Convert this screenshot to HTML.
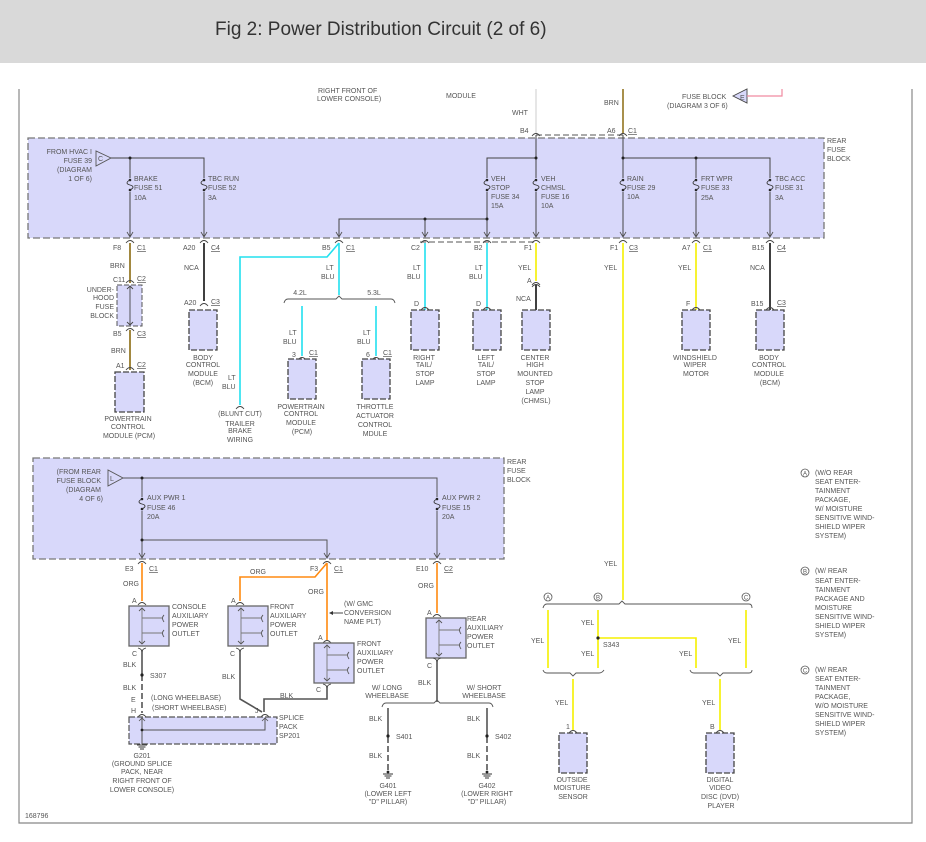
<!DOCTYPE html>
<html><head><meta charset="utf-8"><style>
html,body{margin:0;padding:0;background:#fff;width:926px;height:842px;overflow:hidden}
svg{display:block}
text{font-family:"Liberation Sans",sans-serif;font-size:7px;fill:#555}
.ttl{font-size:19px;fill:#333}
.c{text-anchor:middle}
.u{text-decoration:underline}
</style></head><body>
<svg width="926" height="842" viewBox="0 0 926 842" xmlns="http://www.w3.org/2000/svg">
<defs>
<g id="fz"><rect x="-4" y="-1" width="8" height="14" fill="#d8d8fa"/><circle cx="0" cy="1" r="1.3" fill="#222"/><circle cx="0" cy="11" r="1.3" fill="#222"/><path d="M0,1 c-4,2 -4,4 0,5 c4,1 4,3 0,5" fill="none" stroke="#333" stroke-width="0.9"/></g>
<path id="ar" d="M-3,-5 L0,0 L3,-5" fill="none" stroke="#555" stroke-width="0.9"/>
<path id="cp" d="M-4,3 Q0,-2 4,3" fill="none" stroke="#444" stroke-width="0.9"/>
<g id="gnd"><line x1="-5" y1="0" x2="5" y2="0" stroke="#333"/><line x1="-3.5" y1="2" x2="3.5" y2="2" stroke="#333"/><line x1="-2" y1="4" x2="2" y2="4" stroke="#333"/></g>
<g id="out"><rect x="0" y="0" width="40" height="40" fill="#d8d8fa" stroke="#666" stroke-width="1.3"/><path d="M13,2 V27 M13,12 H33 M13,27 V38 M13,27 H33" fill="none" stroke="#777" stroke-width="0.9"/><path d="M10,5 L13,2 L16,5 M10,35 L13,38 L16,35" fill="none" stroke="#555" stroke-width="0.9"/><path d="M35,9 q-3,3 0,7 M35,24 q-3,3 0,7" fill="none" stroke="#555" stroke-width="0.9"/></g>
</defs>

<rect x="0" y="0" width="926" height="63" fill="#d9d9d9"/>
<text x="215" y="35" class="ttl">Fig 2: Power Distribution Circuit (2 of 6)</text>

<!-- frame -->
<path d="M19,89 V823 H912 V89" fill="none" stroke="#888" stroke-width="1.2"/>

<!-- top stuff -->
<text x="318" y="93">RIGHT FRONT OF</text>
<text x="317" y="101">LOWER CONSOLE)</text>
<text x="446" y="98">MODULE</text>
<line x1="536" y1="89" x2="536" y2="134" stroke="#ddd" stroke-width="1.5"/>
<text x="512" y="115">WHT</text>
<line x1="623" y1="89" x2="623" y2="134" stroke="#8a6a10" stroke-width="1.5"/>
<text x="604" y="105">BRN</text>
<text x="682" y="99">FUSE BLOCK</text>
<text x="667" y="108">(DIAGRAM 3 OF 6)</text>
<polygon points="733,96 747,89 747,103" fill="#d8d8fa" stroke="#444" stroke-width="0.9"/>
<text x="740" y="100">E</text>
<path d="M747,96 H782 V89" fill="none" stroke="#f08aa0" stroke-width="1.2"/>

<!-- upper fuse block -->
<rect x="28" y="138" width="796" height="100" fill="#d8d8fa" stroke="#777" stroke-width="1.3" stroke-dasharray="7,3"/>
<path d="M420,242 H536 M536,135 H623" stroke="#777" stroke-width="1.2" stroke-dasharray="6,3" fill="none"/>
<text x="827" y="143">REAR</text><text x="827" y="152">FUSE</text><text x="827" y="161">BLOCK</text>
<text x="92" y="154" text-anchor="end">FROM HVAC I</text>
<text x="92" y="163" text-anchor="end">FUSE 39</text>
<text x="92" y="172" text-anchor="end">(DIAGRAM</text>
<text x="92" y="181" text-anchor="end">1 OF 6)</text>
<polygon points="96,151 96,166 111,158" fill="#d8d8fa" stroke="#555" stroke-width="0.9"/>
<text x="98" y="161">C</text>
<g stroke="#444" stroke-width="1" fill="none">
<path d="M111,158 H204 V237 M130,158 V237"/>
<path d="M339,237 V219 H487 M425,219 V237 M487,237 V158 H536 M536,135 V237"/>
<path d="M623,135 V237 M623,158 H770 V237 M696,158 V237"/>
</g>
<circle cx="130" cy="158" r="1.5" fill="#222"/><circle cx="425" cy="219" r="1.5" fill="#222"/><circle cx="487" cy="219" r="1.5" fill="#222"/><circle cx="536" cy="158" r="1.5" fill="#222"/><circle cx="623" cy="158" r="1.5" fill="#222"/><circle cx="696" cy="158" r="1.5" fill="#222"/>
<use href="#fz" x="130" y="179"/><use href="#fz" x="204" y="179"/><use href="#fz" x="487" y="179"/><use href="#fz" x="536" y="179"/><use href="#fz" x="623" y="179"/><use href="#fz" x="696" y="179"/><use href="#fz" x="770" y="179"/>
<text x="134" y="181">BRAKE</text><text x="134" y="190">FUSE 51</text><text x="134" y="200">10A</text>
<text x="208" y="181">TBC RUN</text><text x="208" y="190">FUSE 52</text><text x="208" y="200">3A</text>
<text x="491" y="181">VEH</text><text x="491" y="190">STOP</text><text x="491" y="199">FUSE 34</text><text x="491" y="208">15A</text>
<text x="541" y="181">VEH</text><text x="541" y="190">CHMSL</text><text x="541" y="199">FUSE 16</text><text x="541" y="208">10A</text>
<text x="627" y="181">RAIN</text><text x="627" y="190">FUSE 29</text><text x="627" y="199">10A</text>
<text x="701" y="181">FRT WPR</text><text x="701" y="190">FUSE 33</text><text x="701" y="200">25A</text>
<text x="775" y="181">TBC ACC</text><text x="775" y="190">FUSE 31</text><text x="775" y="200">3A</text>
<use href="#ar" x="130" y="237"/><use href="#ar" x="204" y="237"/><use href="#ar" x="339" y="237"/><use href="#ar" x="425" y="237"/><use href="#ar" x="487" y="237"/><use href="#ar" x="536" y="237"/><use href="#ar" x="623" y="237"/><use href="#ar" x="696" y="237"/><use href="#ar" x="770" y="237"/>
<use href="#cp" x="536" y="133"/><use href="#cp" x="623" y="133"/>
<text x="520" y="133">B4</text><text x="607" y="133">A6</text><text x="628" y="133" class="u">C1</text>
<g transform="translate(0,0)">
<use href="#cp" x="130" y="240"/><use href="#cp" x="204" y="240"/><use href="#cp" x="339" y="240"/><use href="#cp" x="425" y="240"/><use href="#cp" x="487" y="240"/><use href="#cp" x="536" y="240"/><use href="#cp" x="623" y="240"/><use href="#cp" x="696" y="240"/><use href="#cp" x="770" y="240"/>
</g>
<text x="113" y="250">F8</text><text x="137" y="250" class="u">C1</text>
<text x="183" y="250">A20</text><text x="211" y="250" class="u">C4</text>
<text x="322" y="250">B5</text><text x="346" y="250" class="u">C1</text>
<text x="411" y="250">C2</text>
<text x="474" y="250">B2</text>
<text x="524" y="250">F1</text>
<text x="610" y="250">F1</text><text x="629" y="250" class="u">C3</text>
<text x="682" y="250">A7</text><text x="703" y="250" class="u">C1</text>
<text x="752" y="250">B15</text><text x="777" y="250" class="u">C4</text>

<!-- column 130 -->
<g stroke-width="1.6" fill="none">
<path d="M130,243 V283 M130,330 V370" stroke="#8a6a10"/>
<path d="M204,243 V301 M770,243 V311 M536,285 V310" stroke="#111"/>
<path d="M339,243 L327,257 H240 V405 M339,243 V295 M302,306 V356 M376,306 V356 M425,243 V310 M487,243 V310" stroke="#22e0ee"/>
<path d="M536,243 V281 M623,243 V600 M696,243 V310" stroke="#f5f000"/>
</g>
<text x="110" y="268">BRN</text>
<use href="#cp" x="130" y="280"/><text x="113" y="282">C11</text><text x="137" y="281" class="u">C2</text>
<rect x="117" y="285" width="25" height="41" fill="#d8d8fa" stroke="#555" stroke-dasharray="5,2"/>
<path d="M130,286 V325 M127,289 L130,286 L133,289 M127,322 L130,325 L133,322" stroke="#444" fill="none" stroke-width="0.9"/>
<text x="114" y="292" text-anchor="end">UNDER-</text><text x="114" y="300" text-anchor="end">HOOD</text><text x="114" y="309" text-anchor="end">FUSE</text><text x="114" y="318" text-anchor="end">BLOCK</text>
<use href="#cp" x="130" y="328"/><text x="113" y="336">B5</text><text x="137" y="336" class="u">C3</text>
<text x="111" y="353">BRN</text>
<use href="#cp" x="130" y="367"/><text x="116" y="368">A1</text><text x="137" y="367" class="u">C2</text>
<rect x="115" y="372" width="29" height="40" fill="#d8d8fa" stroke="#444" stroke-width="1.3" stroke-dasharray="6,2"/>
<text x="128" y="421" class="c">POWERTRAIN</text><text x="128" y="429" class="c">CONTROL</text><text x="129" y="438" class="c">MODULE (PCM)</text>

<text x="184" y="270">NCA</text>
<use href="#cp" x="204" y="303"/><text x="184" y="305">A20</text><text x="211" y="304" class="u">C3</text>
<rect x="189" y="310" width="28" height="40" fill="#d8d8fa" stroke="#444" stroke-width="1.3" stroke-dasharray="6,2"/>
<text x="203" y="360" class="c">BODY</text><text x="203" y="367" class="c">CONTROL</text><text x="203" y="376" class="c">MODULE</text><text x="203" y="385" class="c">(BCM)</text>

<text x="228" y="380">LT</text><text x="222" y="389">BLU</text>
<use href="#cp" x="240" y="406"/>
<text x="240" y="416" class="c">(BLUNT CUT)</text><text x="240" y="426" class="c">TRAILER</text><text x="240" y="433" class="c">BRAKE</text><text x="240" y="442" class="c">WIRING</text>

<text x="326" y="270">LT</text><text x="321" y="279">BLU</text>
<path d="M284,303 Q285,299 288,299 H336 L339,296 L342,299 H391 Q394,299 395,303" fill="none" stroke="#555" stroke-width="0.9"/>
<text x="300" y="295" class="c">4.2L</text><text x="374" y="295" class="c">5.3L</text>
<text x="289" y="335">LT</text><text x="283" y="344">BLU</text>
<text x="363" y="335">LT</text><text x="357" y="344">BLU</text>
<use href="#cp" x="302" y="357"/><text x="292" y="357">3</text><text x="309" y="355" class="u">C1</text>
<use href="#cp" x="376" y="357"/><text x="366" y="357">6</text><text x="383" y="355" class="u">C1</text>
<rect x="288" y="359" width="28" height="40" fill="#d8d8fa" stroke="#444" stroke-width="1.3" stroke-dasharray="6,2"/>
<rect x="362" y="359" width="28" height="40" fill="#d8d8fa" stroke="#444" stroke-width="1.3" stroke-dasharray="6,2"/>
<text x="301" y="409" class="c">POWERTRAIN</text><text x="301" y="416" class="c">CONTROL</text><text x="301" y="425" class="c">MODULE</text><text x="302" y="434" class="c">(PCM)</text>
<text x="375" y="409" class="c">THROTTLE</text><text x="375" y="418" class="c">ACTUATOR</text><text x="375" y="427" class="c">CONTROL</text><text x="375" y="436" class="c">MDULE</text>

<text x="413" y="270">LT</text><text x="407" y="279">BLU</text>
<use href="#cp" x="425" y="307"/><text x="414" y="306">D</text>
<rect x="411" y="310" width="28" height="40" fill="#d8d8fa" stroke="#444" stroke-width="1.3" stroke-dasharray="6,2"/>
<text x="424" y="360" class="c">RIGHT</text><text x="424" y="367" class="c">TAIL/</text><text x="425" y="376" class="c">STOP</text><text x="425" y="385" class="c">LAMP</text>

<text x="475" y="270">LT</text><text x="469" y="279">BLU</text>
<use href="#cp" x="487" y="307"/><text x="476" y="306">D</text>
<rect x="473" y="310" width="28" height="40" fill="#d8d8fa" stroke="#444" stroke-width="1.3" stroke-dasharray="6,2"/>
<text x="486" y="360" class="c">LEFT</text><text x="486" y="367" class="c">TAIL/</text><text x="486" y="376" class="c">STOP</text><text x="486" y="385" class="c">LAMP</text>

<text x="518" y="270">YEL</text>
<use href="#cp" x="536" y="282"/><path d="M532,287 Q536,282 540,287" fill="none" stroke="#444" stroke-width="0.9"/><text x="527" y="283">A</text>
<text x="516" y="301">NCA</text>
<rect x="522" y="310" width="28" height="40" fill="#d8d8fa" stroke="#444" stroke-width="1.3" stroke-dasharray="6,2"/>
<text x="535" y="360" class="c">CENTER</text><text x="535" y="367" class="c">HIGH</text><text x="535" y="376" class="c">MOUNTED</text><text x="535" y="385" class="c">STOP</text><text x="535" y="394" class="c">LAMP</text><text x="536" y="403" class="c">(CHMSL)</text>

<text x="604" y="270">YEL</text>
<text x="678" y="270">YEL</text>
<use href="#cp" x="696" y="307"/><text x="686" y="306">F</text>
<rect x="682" y="310" width="28" height="40" fill="#d8d8fa" stroke="#444" stroke-width="1.3" stroke-dasharray="6,2"/>
<text x="695" y="360" class="c">WINDSHIELD</text><text x="695" y="367" class="c">WIPER</text><text x="696" y="376" class="c">MOTOR</text>

<text x="750" y="270">NCA</text>
<use href="#cp" x="770" y="307"/><text x="751" y="306">B15</text><text x="777" y="305" class="u">C3</text>
<rect x="756" y="310" width="28" height="40" fill="#d8d8fa" stroke="#444" stroke-width="1.3" stroke-dasharray="6,2"/>
<text x="769" y="360" class="c">BODY</text><text x="769" y="367" class="c">CONTROL</text><text x="769" y="376" class="c">MODULE</text><text x="770" y="385" class="c">(BCM)</text>

<!-- lower fuse block -->
<rect x="33" y="458" width="471" height="101" fill="#d8d8fa" stroke="#777" stroke-width="1.3" stroke-dasharray="7,3"/>
<text x="507" y="464">REAR</text><text x="507" y="473">FUSE</text><text x="507" y="482">BLOCK</text>
<text x="101" y="474" text-anchor="end">(FROM REAR</text><text x="101" y="483" text-anchor="end">FUSE BLOCK</text><text x="101" y="492" text-anchor="end">(DIAGRAM</text><text x="103" y="501" text-anchor="end">4 OF 6)</text>
<polygon points="108,470 108,486 123,478" fill="#d8d8fa" stroke="#555" stroke-width="0.9"/>
<text x="110" y="481">L</text>
<path d="M123,478 H437 V558 M142,478 V558 M142,540 H327 V558" fill="none" stroke="#555" stroke-width="1"/>
<circle cx="142" cy="478" r="1.5" fill="#222"/><circle cx="142" cy="540" r="1.5" fill="#222"/>
<use href="#fz" x="142" y="498"/><use href="#fz" x="437" y="498"/>
<text x="147" y="500">AUX PWR 1</text><text x="147" y="510">FUSE 46</text><text x="147" y="519">20A</text>
<text x="442" y="500">AUX PWR 2</text><text x="442" y="510">FUSE 15</text><text x="442" y="519">20A</text>
<use href="#ar" x="142" y="558"/><use href="#ar" x="327" y="558"/><use href="#ar" x="437" y="558"/>
<use href="#cp" x="142" y="561"/><use href="#cp" x="327" y="561"/><use href="#cp" x="437" y="561"/>
<text x="125" y="571">E3</text><text x="149" y="571" class="u">C1</text>
<text x="310" y="571">F3</text><text x="334" y="571" class="u">C1</text>
<text x="416" y="571">E10</text><text x="444" y="571" class="u">C2</text>

<g stroke-width="1.6" fill="none" stroke="#ff8a10">
<path d="M142,563 V601 M327,563 L315,577 H240 V601 M327,563 V640 M437,563 V613"/>
</g>
<text x="123" y="586">ORG</text><text x="250" y="574">ORG</text><text x="308" y="594">ORG</text><text x="418" y="588">ORG</text>
<use href="#cp" x="142" y="602"/><text x="132" y="603">A</text>
<use href="#cp" x="240" y="602"/><text x="231" y="603">A</text>
<use href="#cp" x="327" y="640"/><text x="318" y="640">A</text>
<use href="#cp" x="437" y="614"/><text x="427" y="615">A</text>
<use href="#out" x="129" y="606"/><use href="#out" x="228" y="606"/><use href="#out" x="314" y="643"/><use href="#out" x="426" y="618"/>
<text x="172" y="609">CONSOLE</text><text x="172" y="618">AUXILIARY</text><text x="172" y="627">POWER</text><text x="172" y="636">OUTLET</text>
<text x="270" y="609">FRONT</text><text x="270" y="618">AUXILIARY</text><text x="270" y="627">POWER</text><text x="270" y="636">OUTLET</text>
<text x="357" y="646">FRONT</text><text x="357" y="655">AUXILIARY</text><text x="357" y="664">POWER</text><text x="357" y="673">OUTLET</text>
<text x="467" y="621">REAR</text><text x="467" y="630">AUXILIARY</text><text x="467" y="639">POWER</text><text x="467" y="648">OUTLET</text>
<text x="344" y="606">(W/ GMC</text><text x="344" y="615">CONVERSION</text><text x="344" y="624">NAME PLT)</text>
<path d="M343,613 H331" stroke="#333" stroke-width="0.9"/><polygon points="329,613 333,611 333,615" fill="#333"/>

<g stroke="#555" stroke-width="1.6" fill="none">
<path d="M142,650 V675 M240,650 V699 L262,712 M327,686 V699 H264 V712 M437,660 V702 M388,708 V735 M487,708 V735"/>
<path d="M142,675 V713 M388,737 V770 M487,737 V770" stroke-dasharray="6,3"/>
</g>
<path d="M142,652 q0,-3 -4,-4 M142,652 q0,-3 4,-4" stroke="#444" fill="none" stroke-width="0.9"/>
<path d="M240,652 q0,-3 -4,-4 M240,652 q0,-3 4,-4 M327,688 q0,-3 -4,-4 M327,688 q0,-3 4,-4 M437,662 q0,-3 -4,-4 M437,662 q0,-3 4,-4" stroke="#444" fill="none" stroke-width="0.9"/>
<text x="132" y="656">C</text><text x="230" y="656">C</text><text x="316" y="692">C</text><text x="427" y="668">C</text>
<text x="123" y="667">BLK</text><circle cx="142" cy="675" r="1.6" fill="#222"/><text x="150" y="678">S307</text>
<text x="123" y="690">BLK</text><text x="131" y="702">E</text><text x="131" y="713">H</text>
<text x="151" y="700">(LONG WHEELBASE)</text><text x="152" y="710">(SHORT WHEELBASE)</text>
<text x="222" y="679">BLK</text><text x="280" y="698">BLK</text>
<text x="418" y="685">BLK</text>
<use href="#cp" x="142" y="714"/><use href="#cp" x="265" y="714"/><text x="255" y="713">J</text>
<rect x="129" y="717" width="148" height="27" fill="#d8d8fa" stroke="#555" stroke-width="1.2" stroke-dasharray="6,2"/>
<path d="M142,717 V744 M142,730 H265 V718" fill="none" stroke="#555" stroke-width="1"/>
<path d="M262,721 L265,718 L268,721 M139,721 L142,718 L145,721" fill="none" stroke="#555" stroke-width="0.8"/>
<circle cx="142" cy="730" r="1.4" fill="#222"/>
<use href="#gnd" x="142" y="745"/>
<text x="279" y="720">SPLICE</text><text x="279" y="729">PACK</text><text x="279" y="738">SP201</text>
<text x="142" y="758" class="c">G201</text><text x="142" y="766" class="c">(GROUND SPLICE</text><text x="142" y="774" class="c">PACK, NEAR</text><text x="142" y="783" class="c">RIGHT FRONT OF</text><text x="142" y="792" class="c">LOWER CONSOLE)</text>

<text x="387" y="690" class="c">W/ LONG</text><text x="387" y="698" class="c">WHEELBASE</text>
<text x="484" y="690" class="c">W/ SHORT</text><text x="484" y="698" class="c">WHEELBASE</text>
<path d="M382,707 Q383,703 386,703 H434 L437,700 L440,703 H489 Q492,703 493,707" fill="none" stroke="#555" stroke-width="0.9"/>
<text x="369" y="721">BLK</text><text x="467" y="721">BLK</text>
<circle cx="388" cy="736" r="1.6" fill="#222"/><text x="396" y="739">S401</text>
<circle cx="487" cy="736" r="1.6" fill="#222"/><text x="495" y="739">S402</text>
<text x="369" y="758">BLK</text><text x="467" y="758">BLK</text>
<circle cx="388" cy="772" r="1.4" fill="#222"/><use href="#gnd" x="388" y="774"/>
<circle cx="487" cy="772" r="1.4" fill="#222"/><use href="#gnd" x="487" y="774"/>
<text x="388" y="788" class="c">G401</text><text x="388" y="796" class="c">(LOWER LEFT</text><text x="388" y="804" class="c">"D" PILLAR)</text>
<text x="487" y="788" class="c">G402</text><text x="487" y="796" class="c">(LOWER RIGHT</text><text x="487" y="804" class="c">"D" PILLAR)</text>
<text x="25" y="818">168796</text>

<!-- right yellow section -->
<text x="604" y="566">YEL</text>
<path d="M543,608 Q544,604 547,604 H619 L622,601 L625,604 H749 Q752,604 752,608" fill="none" stroke="#555" stroke-width="0.9"/>
<circle cx="548" cy="597" r="4" fill="#fff" stroke="#555" stroke-width="0.8"/><text x="548" y="599.5" class="c" style="font-size:6px">A</text>
<circle cx="598" cy="597" r="4" fill="#fff" stroke="#555" stroke-width="0.8"/><text x="598" y="599.5" class="c" style="font-size:6px">B</text>
<circle cx="746" cy="597" r="4" fill="#fff" stroke="#555" stroke-width="0.8"/><text x="746" y="599.5" class="c" style="font-size:6px">C</text>
<g stroke="#f5f000" stroke-width="1.6" fill="none">
<path d="M548,610 V668 M598,610 V668 M746,610 V668 M598,638 H696 V668 M573,679 V730 M720,679 V730"/>
</g>
<circle cx="598" cy="638" r="1.6" fill="#222"/>
<text x="531" y="643">YEL</text><text x="581" y="625">YEL</text><text x="581" y="656">YEL</text><text x="603" y="647">S343</text><text x="679" y="656">YEL</text><text x="728" y="643">YEL</text>
<path d="M543,670 Q544,673 547,673 H570 L573,676 L576,673 H599 Q602,673 604,670" fill="none" stroke="#555" stroke-width="0.9"/>
<path d="M690,670 Q691,673 694,673 H717 L720,676 L723,673 H749 Q752,673 752,670" fill="none" stroke="#555" stroke-width="0.9"/>
<text x="555" y="705">YEL</text><text x="702" y="705">YEL</text>
<use href="#cp" x="573" y="730"/><text x="566" y="729">1</text>
<use href="#cp" x="720" y="730"/><text x="710" y="729">B</text>
<rect x="559" y="733" width="28" height="40" fill="#d8d8fa" stroke="#444" stroke-width="1.3" stroke-dasharray="6,2"/>
<rect x="706" y="733" width="28" height="40" fill="#d8d8fa" stroke="#444" stroke-width="1.3" stroke-dasharray="6,2"/>
<text x="572" y="782" class="c">OUTSIDE</text><text x="572" y="790" class="c">MOISTURE</text><text x="573" y="799" class="c">SENSOR</text>
<text x="720" y="782" class="c">DIGITAL</text><text x="720" y="790" class="c">VIDEO</text><text x="720" y="799" class="c">DISC (DVD)</text><text x="721" y="808" class="c">PLAYER</text>

<!-- notes -->
<circle cx="805" cy="473" r="4" fill="#fff" stroke="#555" stroke-width="0.8"/><text x="805" y="475.5" class="c" style="font-size:6px">A</text>
<text x="815" y="475">(W/O REAR</text><text x="815" y="484">SEAT ENTER-</text><text x="815" y="493">TAINMENT</text><text x="815" y="502">PACKAGE,</text><text x="815" y="511">W/ MOISTURE</text><text x="815" y="520">SENSITIVE WIND-</text><text x="815" y="529">SHIELD WIPER</text><text x="815" y="538">SYSTEM)</text>
<circle cx="805" cy="571" r="4" fill="#fff" stroke="#555" stroke-width="0.8"/><text x="805" y="573.5" class="c" style="font-size:6px">B</text>
<text x="815" y="573">(W/ REAR</text><text x="815" y="583">SEAT ENTER-</text><text x="815" y="592">TAINMENT</text><text x="815" y="601">PACKAGE AND</text><text x="815" y="610">MOISTURE</text><text x="815" y="619">SENSITIVE WIND-</text><text x="815" y="628">SHIELD WIPER</text><text x="815" y="637">SYSTEM)</text>
<circle cx="805" cy="670" r="4" fill="#fff" stroke="#555" stroke-width="0.8"/><text x="805" y="672.5" class="c" style="font-size:6px">C</text>
<text x="815" y="672">(W/ REAR</text><text x="815" y="681">SEAT ENTER-</text><text x="815" y="690">TAINMENT</text><text x="815" y="699">PACKAGE,</text><text x="815" y="708">W/O MOISTURE</text><text x="815" y="717">SENSITIVE WIND-</text><text x="815" y="726">SHIELD WIPER</text><text x="815" y="735">SYSTEM)</text>
</svg>
</body></html>
